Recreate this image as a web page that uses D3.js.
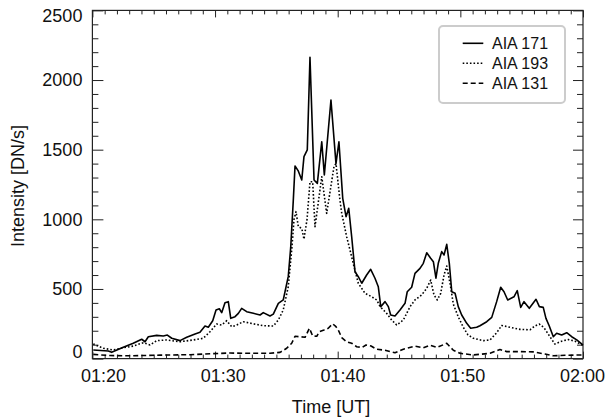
<!DOCTYPE html>
<html>
<head>
<meta charset="utf-8">
<script src="https://cdn.jsdelivr.net/npm/d3@7"></script>
<style>
  body { margin: 0; background: #fff; }
  svg text { font-family: "Liberation Sans", Arial, sans-serif; fill: #111; }
</style>
</head>
<body>
<div id="chart"></div>
<script>
// Time in minutes after 01:20 UT, intensity in DN/s
const t171 = [0.07, 1.30, 1.57, 2.52, 3.33, 4.02, 4.29, 4.56, 5.24, 5.78, 6.11, 6.47, 7.14, 7.69, 8.37, 8.77,
  9.18, 9.45, 9.81, 10.08, 10.35, 10.54, 10.81, 11.08, 11.28, 11.63, 11.90, 12.17, 12.58, 13.12, 13.67, 13.93,
  14.48, 14.75, 15.16, 15.56, 15.97, 16.17, 16.38, 16.52, 16.77, 17.07, 17.25, 17.52, 17.74, 18.07, 18.34, 18.70,
  18.91, 19.45, 19.86, 20.10, 20.41, 20.68, 20.90, 21.14, 21.41, 21.68, 21.96, 22.36, 22.69, 23.04, 23.31, 23.51,
  23.86, 24.13, 24.32, 24.67, 25.08, 25.49, 25.67, 26.03, 26.30, 26.71, 26.98, 27.26, 27.58, 27.80, 28.01, 28.20,
  28.48, 28.67, 28.89, 29.10, 29.30, 29.57, 29.83, 30.11, 30.52, 30.84, 31.33, 31.60, 32.15, 32.56, 32.96, 33.29,
  33.56, 33.86, 34.37, 34.64, 34.92, 35.19, 35.62, 36.17, 36.44, 36.76, 36.98, 37.25, 37.58, 37.85, 38.26, 38.67,
  39.08, 39.49, 39.89, 40];
const aia171 = [62, 55, 45, 81, 110, 139, 121, 157, 167, 162, 169, 146, 129, 153, 177, 189,
  234, 225, 272, 349, 358, 330, 401, 409, 289, 301, 325, 361, 337, 325, 313, 330,
  306, 319, 397, 421, 590, 800, 1138, 1383, 1350, 1282, 1450, 1498, 2163, 1282, 1258, 1557,
  1318, 1857, 1400, 1557, 1151, 1019, 1079, 875, 624, 588, 541, 600, 641, 577, 516, 373,
  409, 373, 313, 306, 349, 397, 480, 512, 612, 648, 684, 760, 720, 696, 577, 684,
  768, 744, 820, 684, 480, 469, 373, 313, 253, 218, 225, 236, 265, 296, 409, 512,
  480, 421, 444, 488, 368, 409, 361, 426, 373, 368, 289, 234, 157, 182, 169, 186,
  157, 134, 105, 98];

const t193 = [0.07, 0.89, 1.70, 2.52, 3.33, 4.15, 4.70, 5.24, 6.06, 7.14, 8.23, 9.04, 9.59, 10.13, 10.54, 10.95,
  11.36, 11.77, 12.30, 13.12, 13.93, 14.75, 15.16, 15.56, 15.97, 16.25, 16.44, 16.60, 16.79, 17.07, 17.25, 17.50,
  17.74, 17.96, 18.15, 18.70, 19.10, 19.70, 19.86, 20.18, 20.33, 20.73, 21.00, 21.33, 21.68, 22.23, 22.77, 23.18,
  23.46, 23.99, 24.40, 24.81, 25.35, 25.90, 26.30, 26.85, 27.26, 27.58, 27.85, 28.12, 28.40, 28.67, 28.89, 29.16,
  29.43, 29.83, 30.24, 30.62, 31.06, 31.87, 32.42, 32.96, 33.37, 34.05, 34.86, 35.68, 36.08, 36.44, 36.82, 37.31,
  37.70, 38.26, 38.80, 39.35, 39.89, 40];
const aia193 = [105, 74, 62, 78, 90, 114, 98, 129, 134, 121, 134, 146, 193, 248, 241, 272,
  229, 241, 265, 250, 236, 234, 277, 349, 516, 780, 1000, 1055, 947, 935, 857, 1000,
  1270, 1270, 947, 1306, 1043, 1380, 1400, 1139, 1043, 875, 780, 660, 541, 469, 444, 421,
  373, 325, 277, 241, 277, 373, 421, 457, 505, 564, 457, 421, 469, 600, 665, 540,
  390, 300, 225, 170, 146, 129, 134, 185, 238, 225, 210, 207, 234, 248, 222, 157,
  105, 125, 137, 125, 100, 95];

const t131 = [0.07, 1.43, 3.07, 5.51, 7.96, 9.59, 11.22, 12.85, 14.48, 15.30, 15.84, 16.25, 16.52, 16.93, 17.34, 17.69,
  17.96, 18.29, 18.50, 18.88, 19.23, 19.59, 19.86, 20.05, 20.33, 20.73, 21.14, 21.55, 21.98, 22.31, 22.72, 23.18,
  23.86, 24.67, 25.35, 26.30, 26.98, 27.53, 28.10, 28.89, 29.43, 29.97, 31.06, 32.42, 33.23, 33.78, 34.86, 35.95,
  36.90, 37.58, 38.53, 39.89, 40];
const aia131 = [30, 22, 20, 25, 28, 35, 40, 38, 38, 45, 74, 110, 160, 157, 153, 218,
  162, 160, 193, 205, 218, 250, 229, 205, 150, 121, 110, 85, 80, 98, 90, 67,
  60, 42, 67, 90, 78, 96, 80, 110, 60, 38, 26, 38, 65, 50, 50, 48,
  33, 20, 24, 26, 26];

const seriesNames = ["AIA 171", "AIA 193", "AIA 131"];
const xTicks = [0, 10, 20, 30, 40];
const xTickLabels = ["01:20", "01:30", "01:40", "01:50", "02:00"];
const yTicks = [0, 500, 1000, 1500, 2000, 2500];

const width = 613;
const height = 420;
const plotLeft = 92.4, plotRight = 583, plotTop = 10.4, plotBottom = 358.6;

const svg = d3.select("#chart").append("svg")
  .attr("width", width)
  .attr("height", height);

const x = d3.scaleLinear().domain([0, 40]).range([plotLeft, plotRight]);
const y = d3.scaleLinear().domain([0, 2500]).range([plotBottom, plotTop]);
// tick labels sit slightly off their ticks in the original
const xLabelPos = d3.scaleLinear().domain([0, 40]).range([103, 582]);

const minorX = d3.range(0, 41).filter(m => m % 10 !== 0);
const minorY = d3.range(0, 2501, 100).filter(v => v % 500 !== 0);

function styleAxis(g) {
  g.select(".domain").remove();
  g.selectAll("line").attr("stroke", "#222").attr("stroke-width", 1);
}

// bottom axis
svg.append("g")
  .attr("transform", `translate(0,${plotBottom})`)
  .call(d3.axisBottom(x).tickValues(minorX).tickSize(-4).tickFormat(""))
  .call(styleAxis);
const xAxis = svg.append("g")
  .attr("transform", `translate(0,${plotBottom})`)
  .call(d3.axisBottom(x).tickValues(xTicks).tickSize(-7).tickPadding(11)
    .tickFormat((d, i) => xTickLabels[i]))
  .call(styleAxis);
xAxis.selectAll("text")
  .attr("x", d => xLabelPos(d) - x(d))
  .style("font-size", "18px");

// top axis
svg.append("g")
  .attr("transform", `translate(0,${plotTop})`)
  .call(d3.axisTop(x).tickValues(minorX).tickSize(-4).tickFormat(""))
  .call(styleAxis);
svg.append("g")
  .attr("transform", `translate(0,${plotTop})`)
  .call(d3.axisTop(x).tickValues(xTicks).tickSize(-7).tickFormat(""))
  .call(styleAxis);

// left axis
svg.append("g")
  .attr("transform", `translate(${plotLeft},0)`)
  .call(d3.axisLeft(y).tickValues(minorY).tickSize(-6).tickFormat(""))
  .call(styleAxis);
const yAxis = svg.append("g")
  .attr("transform", `translate(${plotLeft},0)`)
  .call(d3.axisLeft(y).tickValues(yTicks).tickSize(-11).tickPadding(10).tickFormat(d3.format("d")))
  .call(styleAxis);
yAxis.selectAll("text")
  .attr("y", d => Math.max(16, Math.min(351.7, y(d))) - y(d))
  .style("font-size", "18px");

// right axis
svg.append("g")
  .attr("transform", `translate(${plotRight},0)`)
  .call(d3.axisRight(y).tickValues(minorY).tickSize(-6).tickFormat(""))
  .call(styleAxis);
svg.append("g")
  .attr("transform", `translate(${plotRight},0)`)
  .call(d3.axisRight(y).tickValues(yTicks).tickSize(-10).tickFormat(""))
  .call(styleAxis);

// frame
svg.append("rect")
  .attr("x", plotLeft).attr("y", plotTop)
  .attr("width", plotRight - plotLeft).attr("height", plotBottom - plotTop)
  .attr("fill", "none")
  .attr("stroke", "#222")
  .attr("stroke-width", 1.2);

// series
const series = [
  { name: seriesNames[0], t: t171, v: aia171, dash: null },
  { name: seriesNames[1], t: t193, v: aia193, dash: "1.6,2" },
  { name: seriesNames[2], t: t131, v: aia131, dash: "5,3" }
];

const line = d3.line()
  .x(d => x(d[0]))
  .y(d => y(d[1]));

const plot = svg.append("g");
series.forEach(s => {
  plot.append("path")
    .datum(s.t.map((t, i) => [t, s.v[i]]))
    .attr("d", line)
    .attr("fill", "none")
    .attr("stroke", "#000")
    .attr("stroke-width", 1.6)
    .attr("stroke-linejoin", "round")
    .attr("stroke-dasharray", s.dash);
});

// axis titles
svg.append("text")
  .attr("x", 331)
  .attr("y", 413)
  .attr("text-anchor", "middle")
  .style("font-size", "18px")
  .text("Time [UT]");

svg.append("text")
  .attr("transform", "translate(24,186) rotate(-90)")
  .attr("text-anchor", "middle")
  .style("font-size", "18px")
  .text("Intensity [DN/s]");

// legend
const legend = svg.append("g").attr("transform", "translate(439,26)");
legend.append("rect")
  .attr("width", 126)
  .attr("height", 77)
  .attr("rx", 4)
  .attr("fill", "#fff")
  .attr("stroke", "#ccc")
  .attr("stroke-width", 2);

series.forEach((s, i) => {
  const row = legend.append("g").attr("transform", `translate(0,${17.3 + i * 20})`);
  row.append("line")
    .attr("x1", 23.7).attr("x2", 44.3)
    .attr("stroke", "#000")
    .attr("stroke-width", 1.6)
    .attr("stroke-dasharray", s.dash);
  row.append("text")
    .attr("x", 53)
    .attr("dy", "0.35em")
    .style("font-size", "16px")
    .text(s.name);
});
</script>
</body>
</html>
